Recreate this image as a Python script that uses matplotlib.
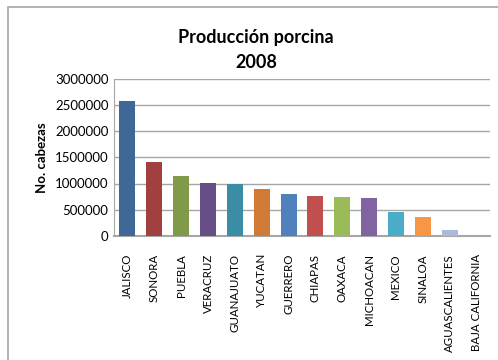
import numpy as np
import matplotlib
matplotlib.use("Agg")
import matplotlib.pyplot as plt
from matplotlib.patches import Rectangle

plt.rcParams["font.family"] = ["Lato", "DejaVu Sans"]

# Data
estados = [
    "JALISCO", "SONORA", "PUEBLA", "VERACRUZ", "GUANAJUATO", "YUCATAN",
    "GUERRERO", "CHIAPAS", "OAXACA", "MICHOACAN", "MEXICO", "SINALOA",
    "AGUASCALIENTES", "BAJA CALIFORNIA",
]
cabezas = [
    2580000, 1404000, 1147000, 1019000, 994000, 897000,
    801000, 763000, 744000, 724000, 455000, 359000,
    115000, 19000,
]
colores = [
    "#3F6898", "#A0403F", "#7F9A48", "#664F86", "#3A8DA4", "#CF7A37",
    "#4F81BD", "#C0504D", "#9BBB59", "#8064A2", "#4BACC6", "#F79646",
    "#A9BADB", "#C39C9B",
]
y_ticks = [0, 500000, 1000000, 1500000, 2000000, 2500000, 3000000]

fig = plt.figure(figsize=(4.98, 3.60), dpi=100)

# chart area border (Excel style, only top/left visible)
fig.patches.append(
    Rectangle((8 / 498, -0.5), 1.5, 1.5 - 7 / 360,
              transform=fig.transFigure, fill=False,
              edgecolor="#A6A6A6", linewidth=1.2)
)

ax = fig.add_axes([114 / 498, 1 - 236 / 360, 376 / 498, 157.5 / 360])

x = np.arange(len(estados))
ax.bar(x, cabezas, width=0.6, color=colores, zorder=3)

ax.set_xlim(-0.5, len(estados) - 0.5)
ax.set_ylim(0, 3000000)
ax.set_yticks(y_ticks)
ax.set_yticklabels([str(v) for v in y_ticks], fontsize=9.5)
ax.set_xticks(x)
ax.set_xticklabels(estados, rotation=90, fontsize=8.3, va="top")
ax.tick_params(axis="both", length=0, pad=4)
ax.tick_params(axis="x", pad=13)

ax.grid(axis="y", color="#A6A6A6", linewidth=1, zorder=0)
for s in ["top", "right"]:
    ax.spines[s].set_visible(False)
ax.spines["left"].set_color("#A6A6A6")
ax.spines["bottom"].set_color("#A6A6A6")
ax.spines["bottom"].set_linewidth(1.5)

ax.set_ylabel("No. cabezas", fontsize=9.5, fontweight="bold", labelpad=5)

fig.text(256 / 498, 1 - 37 / 360, "Producción porcina", ha="center",
         va="center", fontsize=13, fontweight="bold")
fig.text(256 / 498, 1 - 63 / 360, "2008", ha="center", va="center",
         fontsize=13, fontweight="bold")

plt.savefig("out.png", dpi=100)
